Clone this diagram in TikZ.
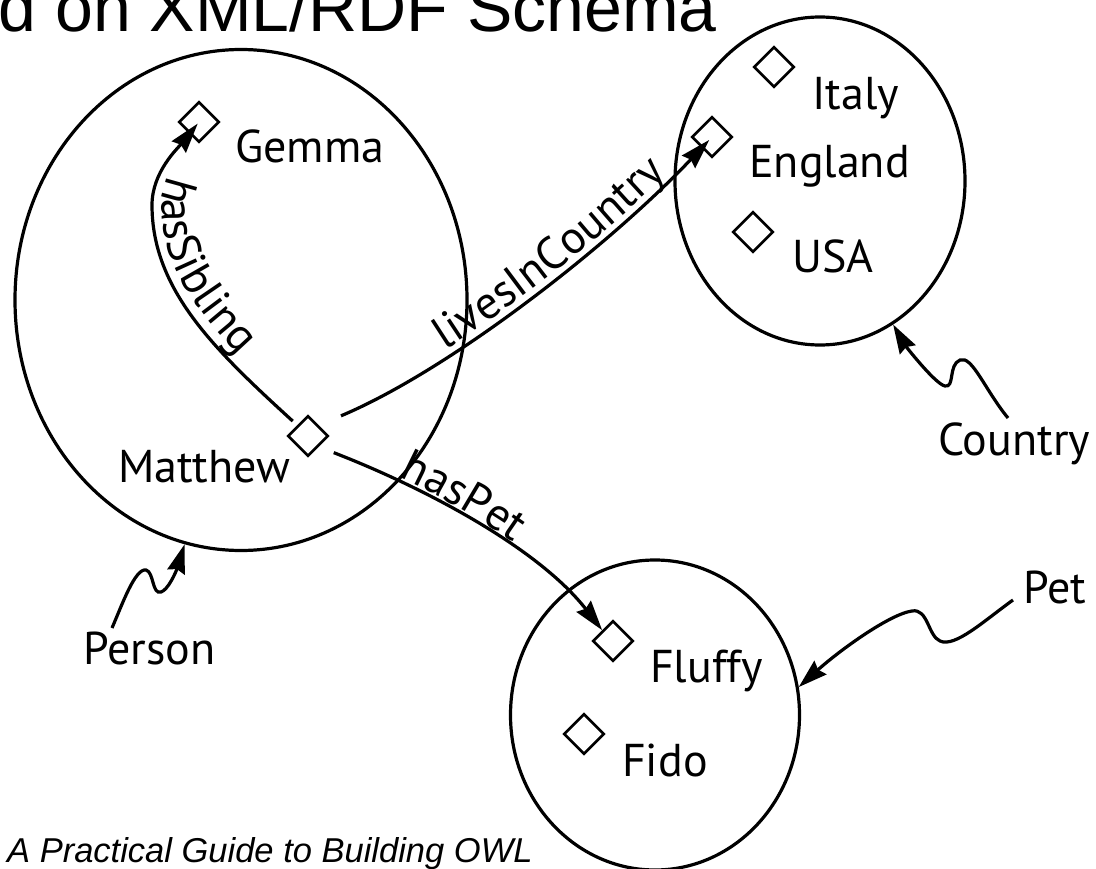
\documentclass[tikz,border=0pt]{standalone}
\usepackage{fontspec}
\usetikzlibrary{arrows.meta,shapes.geometric,decorations.text}
\newfontfamily\lblfamily{PT Sans}
\newfontfamily\arialfamily{Liberation Sans}
\newcommand\lblf{\lblfamily\fontsize{46}{50}\selectfont}
\begin{document}
\begin{tikzpicture}[x=1pt,y=1pt,
  lbl/.style={font=\lblf, inner sep=0, anchor=base west},
  diam/.style={draw, rectangle, rotate=45, minimum size=28pt, inner sep=0, line width=2.7pt},
  cls/.style={draw, ellipse, inner sep=0, line width=3.2pt},
  rel/.style={line width=3.2pt, -{Stealth[length=30pt,width=18pt,inset=3pt]}},
  ptr/.style={line width=3.2pt, -{Stealth[length=29pt,width=18pt,inset=3pt]}}
]
\useasboundingbox (0,0) rectangle (1096,-869);
\clip (0,0) rectangle (1096,-869);

% class ellipses
\node[cls, minimum width=452pt, minimum height=501pt] (person) at (241,-300) {};
\node[cls, minimum width=290pt, minimum height=328pt] (country) at (820,-181) {};
\node[cls, minimum width=289pt, minimum height=310pt] (pet) at (655,-715) {};

% individuals
\node[diam] (gem) at (199,-122) {};
\node[diam] (mat) at (308,-436) {};
\node[diam] (ita) at (774,-67) {};
\node[diam] (eng) at (712,-137) {};
\node[diam] (usa) at (753,-232) {};
\node[diam] (flu) at (613,-641) {};
\node[diam] (fid) at (584,-734) {};

\node[lbl] (gemL) at (235,-163) {Gemma};
\node[lbl] (matL) at (118,-482) {Matthew};
\node[lbl] (itaL) at (812,-110) {Italy};
\node[lbl] (engL) at (749,-178) {England};
\node[lbl] (usaL) at (792,-273) {USA};
\node[lbl] (fluL) at (650,-682) {Fluffy};
\node[lbl] (fidL) at (622,-776) {Fido};
\node[lbl] (ctyL) at (938,-455) {Country};
\node[lbl] (perL) at (83,-664) {Person};
\node[lbl] (petL) at (1023,-603) {Pet};

% title and footer
\node[font=\arialfamily\fontsize{68}{70}\selectfont, anchor=base east, inner sep=0] (title) at (717,-32) {d on XML/RDF Schema};
\node[font=\arialfamily\itshape\fontsize{34.5}{36}\selectfont, anchor=base west, inner sep=0] (foot) at (7,-862) {A Practical Guide to Building OWL};

% hasSibling
\coordinate (hsM) at (152,-205);
\draw[rel, shorten <=6pt, shorten >=2pt] (mat.north) .. controls (215,-350) and (152,-290) .. (hsM)
   .. controls (152,-172) and (178,-148) .. (gem.center);
\path[decorate, decoration={text along path, raise=0pt,
   text align={left, left indent=62pt}, text={|\lblf|hasSibling}}]
   (207,-127) .. controls (186,-150) and (162,-172) .. (162,-205)
   .. controls (162,-285) and (223,-343) .. (304,-418);

% livesInCountry
\draw[rel, shorten <=24pt, shorten >=4pt] (mat.east) .. controls (450,-370) and (610,-245) .. (eng.center);
\path[decorate, decoration={text along path, raise=0pt,
   text align={left, left indent=148pt}, text={|\lblf|livesInCountry}}]
   (315,-420) .. controls (447,-365) and (607,-240) .. (709,-132);

% hasPet
\draw[rel, shorten <=16pt] (mat.south) .. controls (430,-490) and (540,-550) .. (flu.north);
\path[decorate, decoration={text along path, raise=4pt,
   text align={left, left indent=85pt}, text={|\lblf|hasPet}}]
   (mat.south) .. controls (430,-490) and (540,-550) .. (flu.north);

% class pointers
\coordinate (ctyS) at (1008,-418);
\draw[ptr] (ctyS) .. controls (985,-390) and (972,-355) .. (960,-360)
   .. controls (948,-365) and (955,-388) .. (945,-386)
   .. controls (935,-384) and (905,-345) .. (country.297);
\coordinate (perS) at (112,-628);
\draw[ptr] (perS) .. controls (122,-605) and (135,-568) .. (146,-570)
   .. controls (154,-572) and (152,-595) .. (161,-592)
   .. controls (168,-590) and (176,-572) .. (person.257.7);
\coordinate (petS) at (1013,-600);
\draw[ptr] (petS) .. controls (985,-620) and (955,-648) .. (940,-641)
   .. controls (928,-636) and (928,-608) .. (912,-611)
   .. controls (890,-614) and (840,-650) .. (pet.11.5);
\end{tikzpicture}
\end{document}
